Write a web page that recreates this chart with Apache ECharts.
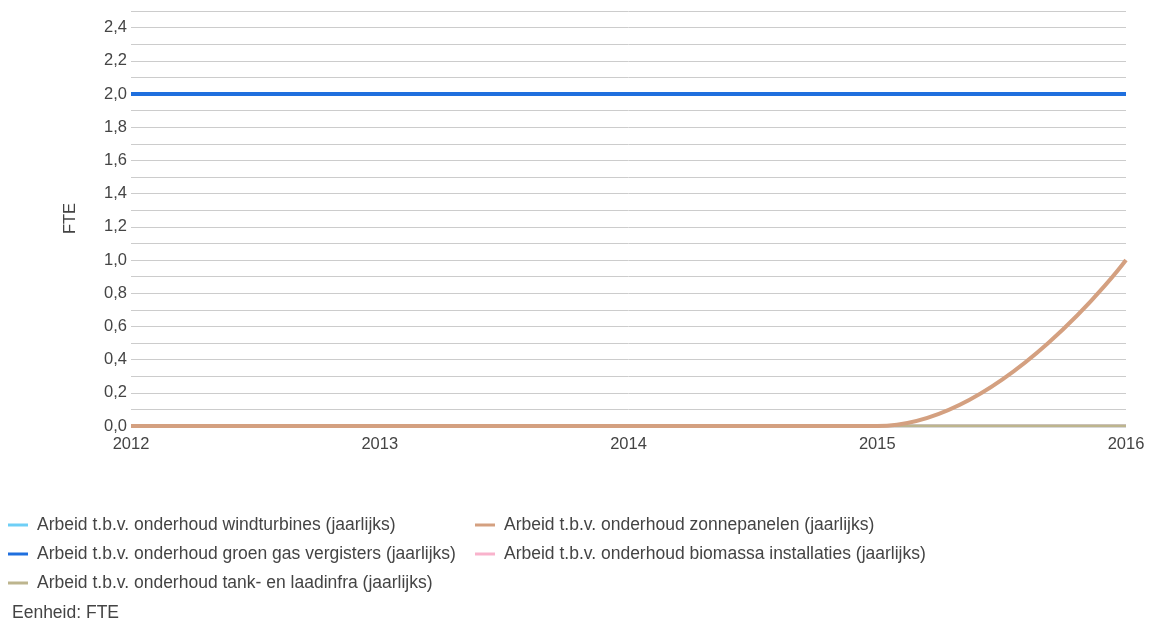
<!DOCTYPE html>
<html>
<head>
<meta charset="utf-8">
<script src="https://cdn.jsdelivr.net/npm/echarts@6/dist/echarts.min.js"></script>
<style>
html,body{margin:0;padding:0;background:#fff;}
#chart{width:1149px;height:622px;}
</style>
</head>
<body>
<div id="chart"></div>
<script>
const years = ['2012', '2013', '2014', '2015', '2016'];
const windturbines = [0, 0, 0, 0, 0];
const groenGas = [2.0, 2.0, 2.0, 2.0, 2.0];
const tankLaad = [0, 0, 0, 0, 0];
const zonnepanelen = [0, 0, 0, 0, 1.0];
const biomassa = [0, 0, 0, 0, 0];

const names = {
  wind: 'Arbeid t.b.v. onderhoud windturbines (jaarlijks)',
  gas: 'Arbeid t.b.v. onderhoud groen gas vergisters (jaarlijks)',
  tank: 'Arbeid t.b.v. onderhoud tank- en laadinfra (jaarlijks)',
  zon: 'Arbeid t.b.v. onderhoud zonnepanelen (jaarlijks)',
  bio: 'Arbeid t.b.v. onderhoud biomassa installaties (jaarlijks)'
};
const colors = {
  wind: '#6ecff6', gas: '#1f6fde', tank: '#bdb58e', zon: '#d4a080', bio: '#f9b3cc'
};

function mk(key, data, w) {
  return {
    name: names[key], type: 'line', data: data,
    smooth: 0.5, smoothMonotone: 'x',
    showSymbol: false, symbol: 'none',
    lineStyle: {color: colors[key], width: w},
    itemStyle: {color: colors[key]},
    emphasis: {disabled: true}
  };
}

const FONT = 'Liberation Sans, Arial, sans-serif';
const chart = echarts.init(document.getElementById('chart'), null, {renderer: 'canvas'});
const legendText = {color: '#444', fontSize: 17.5, fontFamily: FONT, padding: [0, 0, 0, 4]};
chart.setOption({
  animation: false,
  textStyle: {fontFamily: FONT},
  grid: {left: 131, right: 23, top: 11, bottom: 196, containLabel: false},
  xAxis: {
    type: 'category', data: years, boundaryGap: false,
    axisLine: {show: false}, axisTick: {show: false},
    axisLabel: {color: '#444', fontSize: 16.5, margin: 10},
    splitLine: {show: false}
  },
  yAxis: {
    type: 'value', min: 0, max: 2.5, interval: 0.1,
    name: 'FTE', nameLocation: 'middle', nameGap: 52, nameRotate: 90,
    nameTextStyle: {color: '#444', fontSize: 16.5},
    axisLine: {show: false}, axisTick: {show: false},
    axisLabel: {
      color: '#444', fontSize: 16.5, margin: 4,
      formatter: function (v) {
        const t = Math.round(v * 10);
        if (t % 2 !== 0) return '';
        return (t / 10).toFixed(1).replace('.', ',');
      }
    },
    splitLine: {lineStyle: {color: '#cccccc', width: 1}}
  },
  legend: [
    {
      orient: 'vertical', left: 8, top: 516, padding: 0, itemWidth: 20, itemHeight: 3, itemGap: 11,
      icon: 'rect', textStyle: legendText, selectedMode: false,
      data: [names.wind, names.gas, names.tank]
    },
    {
      orient: 'vertical', left: 475, top: 516, padding: 0, itemWidth: 20, itemHeight: 3, itemGap: 11,
      icon: 'rect', textStyle: legendText, selectedMode: false,
      data: [names.zon, names.bio]
    }
  ],
  graphic: [{
    type: 'text', left: 12, top: 604,
    style: {text: 'Eenheid: FTE', fill: '#444', font: '17.5px Liberation Sans, Arial, sans-serif'}
  }],
  series: [
    mk('wind', windturbines, 3),
    mk('bio', biomassa, 3),
    mk('tank', tankLaad, 3),
    mk('gas', groenGas, 4),
    mk('zon', zonnepanelen, 4)
  ]
});
</script>
</body>
</html>
